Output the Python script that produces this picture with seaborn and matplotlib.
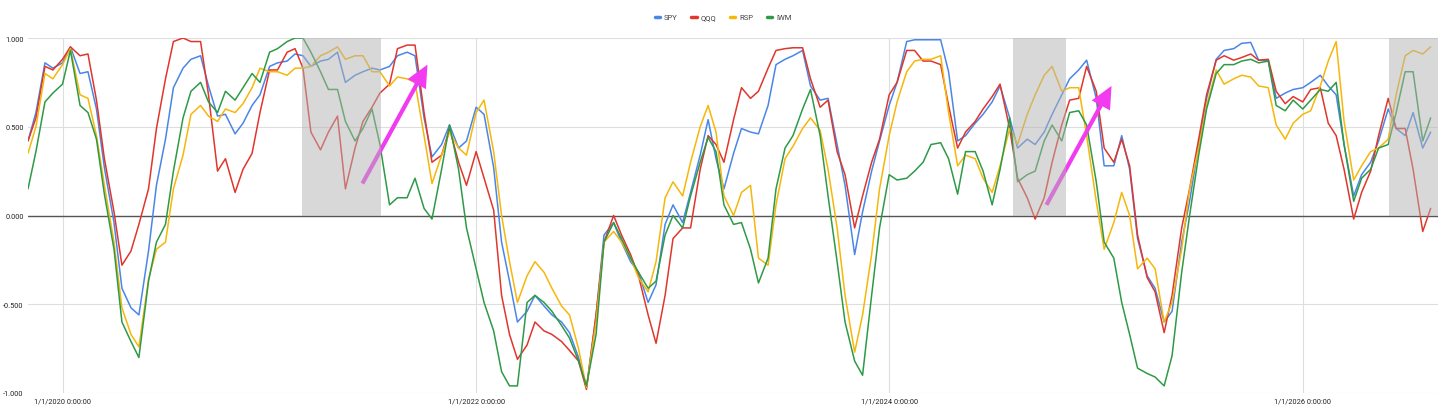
import numpy as np
import pandas as pd
import matplotlib
matplotlib.use("Agg")
import matplotlib.pyplot as plt
import matplotlib.dates as mdates
from matplotlib.lines import Line2D
from matplotlib.ticker import FuncFormatter
import seaborn as sns

# ---------------- data (semi-monthly samples) ----------------
start_date = "2019-11-01"
n_points = 164

spy = [0.42, 0.58, 0.86, 0.83, 0.86, 0.95, 0.80, 0.81, 0.60, 0.27,
       -0.04, -0.41, -0.52, -0.56, -0.20, 0.17, 0.43, 0.72, 0.83, 0.88,
       0.90, 0.73, 0.56, 0.57, 0.46, 0.52, 0.62, 0.68, 0.84, 0.86,
       0.87, 0.91, 0.90, 0.84, 0.87, 0.88, 0.92, 0.75, 0.79, 0.81,
       0.83, 0.82, 0.84, 0.90, 0.92, 0.90, 0.55, 0.33, 0.40, 0.51,
       0.38, 0.42, 0.61, 0.57, 0.27, -0.15, -0.37, -0.60, -0.54, -0.45,
       -0.51, -0.56, -0.60, -0.66, -0.80, -0.97, -0.56, -0.11, -0.04, -0.15,
       -0.26, -0.32, -0.49, -0.39, -0.05, 0.06, -0.04, 0.13, 0.34, 0.54,
       0.32, 0.15, 0.35, 0.49, 0.47, 0.46, 0.62, 0.85, 0.88, 0.90,
       0.93, 0.73, 0.65, 0.66, 0.40, 0.17, -0.22, 0.02, 0.25, 0.42,
       0.62, 0.75, 0.98, 0.99, 0.99, 0.99, 0.99, 0.81, 0.42, 0.45,
       0.52, 0.57, 0.64, 0.73, 0.55, 0.38, 0.43, 0.40, 0.47, 0.57,
       0.68, 0.77, 0.82, 0.875, 0.66, 0.28, 0.28, 0.45, 0.26, -0.13,
       -0.34, -0.41, -0.60, -0.54, -0.15, 0.08, 0.40, 0.66, 0.88, 0.93,
       0.94, 0.97, 0.975, 0.875, 0.875, 0.66, 0.69, 0.71, 0.72, 0.75,
       0.79, 0.73, 0.68, 0.40, 0.11, 0.23, 0.30, 0.42, 0.60, 0.49,
       0.45, 0.58, 0.38, 0.47]

qqq = [0.42, 0.55, 0.84, 0.82, 0.88, 0.95, 0.90, 0.91, 0.65, 0.32,
       0.02, -0.28, -0.20, -0.05, 0.15, 0.49, 0.77, 0.98, 1.00, 0.98,
       0.98, 0.68, 0.25, 0.32, 0.13, 0.26, 0.35, 0.58, 0.82, 0.82,
       0.92, 0.94, 0.83, 0.47, 0.37, 0.47, 0.56, 0.15, 0.38, 0.53,
       0.61, 0.69, 0.74, 0.94, 0.96, 0.96, 0.58, 0.30, 0.34, 0.49,
       0.30, 0.17, 0.36, 0.21, 0.03, -0.45, -0.67, -0.81, -0.73, -0.60,
       -0.65, -0.67, -0.71, -0.76, -0.82, -0.98, -0.56, -0.15, 0.00, -0.11,
       -0.22, -0.34, -0.56, -0.72, -0.45, -0.13, -0.07, -0.07, 0.26, 0.45,
       0.40, 0.30, 0.54, 0.72, 0.66, 0.70, 0.83, 0.93, 0.94, 0.945,
       0.945, 0.77, 0.61, 0.65, 0.36, 0.23, -0.07, 0.11, 0.30, 0.43,
       0.68, 0.75, 0.93, 0.93, 0.87, 0.87, 0.85, 0.62, 0.38, 0.47,
       0.53, 0.60, 0.67, 0.74, 0.49, 0.21, 0.10, -0.02, 0.10, 0.30,
       0.51, 0.65, 0.66, 0.84, 0.70, 0.38, 0.30, 0.43, 0.28, -0.11,
       -0.35, -0.43, -0.66, -0.45, -0.07, 0.15, 0.43, 0.68, 0.875, 0.90,
       0.875, 0.89, 0.91, 0.875, 0.88, 0.70, 0.63, 0.67, 0.64, 0.71,
       0.72, 0.52, 0.45, 0.26, -0.02, 0.13, 0.25, 0.45, 0.66, 0.49,
       0.49, 0.26, -0.09, 0.04]

rsp = [0.35, 0.50, 0.80, 0.77, 0.85, 0.94, 0.68, 0.66, 0.45, 0.17,
       -0.15, -0.52, -0.67, -0.74, -0.36, -0.19, -0.15, 0.15, 0.34, 0.57,
       0.62, 0.56, 0.53, 0.60, 0.58, 0.63, 0.72, 0.83, 0.81, 0.81,
       0.79, 0.83, 0.83, 0.84, 0.90, 0.92, 0.95, 0.88, 0.90, 0.90,
       0.81, 0.81, 0.73, 0.78, 0.77, 0.75, 0.45, 0.18, 0.34, 0.47,
       0.38, 0.34, 0.58, 0.65, 0.36, 0.00, -0.26, -0.49, -0.34, -0.26,
       -0.32, -0.41, -0.51, -0.56, -0.75, -0.97, -0.60, -0.15, -0.09, -0.15,
       -0.24, -0.35, -0.43, -0.26, 0.10, 0.19, 0.11, 0.30, 0.50, 0.62,
       0.47, 0.11, 0.00, 0.13, 0.17, -0.24, -0.28, 0.06, 0.32, 0.39,
       0.49, 0.55, 0.48, 0.26, -0.07, -0.45, -0.77, -0.56, -0.22, 0.15,
       0.45, 0.64, 0.81, 0.87, 0.88, 0.88, 0.90, 0.58, 0.28, 0.34,
       0.32, 0.21, 0.13, 0.28, 0.49, 0.40, 0.57, 0.68, 0.79, 0.84,
       0.70, 0.72, 0.72, 0.45, 0.08, -0.19, -0.04, 0.13, 0.00, -0.30,
       -0.24, -0.30, -0.60, -0.49, -0.19, 0.15, 0.38, 0.62, 0.82, 0.74,
       0.77, 0.79, 0.78, 0.73, 0.72, 0.51, 0.43, 0.52, 0.57, 0.59,
       0.73, 0.87, 0.98, 0.53, 0.20, 0.28, 0.36, 0.38, 0.43, 0.68,
       0.90, 0.93, 0.91, 0.95]

iwm = [0.15, 0.36, 0.64, 0.69, 0.74, 0.93, 0.62, 0.58, 0.43, 0.12,
       -0.19, -0.60, -0.71, -0.80, -0.37, -0.15, -0.05, 0.25, 0.55, 0.70,
       0.75, 0.64, 0.58, 0.70, 0.65, 0.72, 0.80, 0.75, 0.92, 0.94,
       0.98, 1.00, 1.00, 0.92, 0.81, 0.71, 0.71, 0.53, 0.42, 0.49,
       0.60, 0.40, 0.06, 0.10, 0.10, 0.21, 0.04, -0.02, 0.26, 0.51,
       0.26, -0.07, -0.30, -0.49, -0.65, -0.88, -0.96, -0.96, -0.49, -0.45,
       -0.49, -0.54, -0.62, -0.69, -0.82, -0.96, -0.67, -0.15, -0.04, -0.13,
       -0.24, -0.32, -0.41, -0.37, -0.11, 0.00, -0.07, 0.11, 0.30, 0.44,
       0.36, 0.06, -0.05, -0.04, -0.19, -0.38, -0.24, 0.15, 0.38, 0.45,
       0.60, 0.71, 0.45, 0.11, -0.26, -0.60, -0.82, -0.90, -0.45, -0.07,
       0.23, 0.20, 0.21, 0.25, 0.30, 0.40, 0.41, 0.32, 0.12, 0.36,
       0.36, 0.25, 0.06, 0.26, 0.55, 0.19, 0.23, 0.25, 0.42, 0.51,
       0.42, 0.58, 0.59, 0.51, 0.19, -0.15, -0.24, -0.49, -0.67, -0.86,
       -0.89, -0.91, -0.96, -0.79, -0.32, 0.00, 0.34, 0.60, 0.80, 0.85,
       0.85, 0.87, 0.88, 0.86, 0.87, 0.62, 0.59, 0.65, 0.60, 0.65,
       0.71, 0.70, 0.75, 0.40, 0.08, 0.21, 0.26, 0.38, 0.40, 0.58,
       0.81, 0.81, 0.42, 0.55]

series_names = ["SPY", "QQQ", "RSP", "IWM"]
series_colors = ["#4A86E8", "#E0362C", "#F6B70A", "#2E9A47"]

tick_dates = ["2020-01-01", "2022-01-01", "2024-01-01", "2026-01-01"]
tick_labels = ["1/1/2020 0:00:00", "1/1/2022 0:00:00", "1/1/2024 0:00:00", "1/1/2026 0:00:00"]
y_ticks = [-1.0, -0.5, 0.0, 0.5, 1.0]

shade_starts = ["2021-02-28", "2024-08-07", "2026-06-02"]
shade_ends = ["2021-07-17", "2024-11-09", "2026-08-28"]

arrow_from = [("2021-06-14", 0.18), ("2024-10-05", 0.06)]
arrow_to = [("2021-10-07", 0.85), ("2025-01-28", 0.73)]

x_range = ("2019-11-01", "2026-08-28")

# ---------------- build table ----------------
dates = pd.date_range(start_date, periods=n_points, freq="SMS")
wide = pd.DataFrame({"date": dates, "SPY": spy, "QQQ": qqq, "RSP": rsp, "IWM": iwm})
long = wide.melt(id_vars="date", var_name="ticker", value_name="value")

# ---------------- plot ----------------
sns.set_style("white")
plt.rcParams["font.family"] = ["Roboto", "DejaVu Sans"]

fig = plt.figure(figsize=(14.56, 4.14), dpi=100)
ax = fig.add_axes([28 / 1456, 20 / 414, 1410 / 1456, 355 / 414])

palette = dict(zip(series_names, series_colors))
sns.lineplot(data=long, x="date", y="value", hue="ticker", hue_order=series_names,
             palette=palette, linewidth=1.1, ax=ax, legend=False, zorder=3)

ax.set_xlim(pd.Timestamp(x_range[0]), pd.Timestamp(x_range[1]))
ax.set_ylim(-1.0, 1.0)
ax.set_xticks([pd.Timestamp(d) for d in tick_dates])
ax.set_xticklabels(tick_labels)
ax.set_yticks(y_ticks)
ax.yaxis.set_major_formatter(FuncFormatter(lambda v, p: f"{v:.3f}"))
ax.tick_params(axis="both", length=0, labelsize=5.3, colors="#222222")
ax.tick_params(axis="y", pad=3)
ax.tick_params(axis="x", pad=3)
ax.set_xlabel("")
ax.set_ylabel("")
for s in ax.spines.values():
    s.set_visible(False)
ax.grid(True, color="#dedede", linewidth=0.8, zorder=0)
ax.set_axisbelow(True)
ax.axhline(0, color="#555555", linewidth=1.0, zorder=2)

# magenta arrows
for (d0, y0), (d1, y1) in zip(arrow_from, arrow_to):
    ax.annotate("", xy=(mdates.date2num(pd.Timestamp(d1)), y1),
                xytext=(mdates.date2num(pd.Timestamp(d0)), y0),
                arrowprops=dict(arrowstyle="simple,head_length=0.8,head_width=0.75,tail_width=0.15",
                                color="#F23BF0", mutation_scale=20, lw=0, shrinkA=0, shrinkB=0),
                zorder=4)

# gray shaded periods (drawn over lines, semi-transparent)
for s0, s1 in zip(shade_starts, shade_ends):
    ax.fill_between([pd.Timestamp(s0), pd.Timestamp(s1)], 0, 1,
                    color="#b3b3b3", alpha=0.5, linewidth=0, zorder=5)

# legend
handles = [Line2D([0], [0], color=c, lw=2.5, solid_capstyle="round") for c in series_colors]
fig.legend(handles, series_names, loc="center", bbox_to_anchor=(0.5 - 5 / 1456, 1 - 18 / 414),
           ncol=4, frameon=False, handlelength=0.7, handletextpad=0.5,
           columnspacing=1.8, fontsize=5.5, labelcolor="#444444")

fig.savefig("out.png", dpi=100)
